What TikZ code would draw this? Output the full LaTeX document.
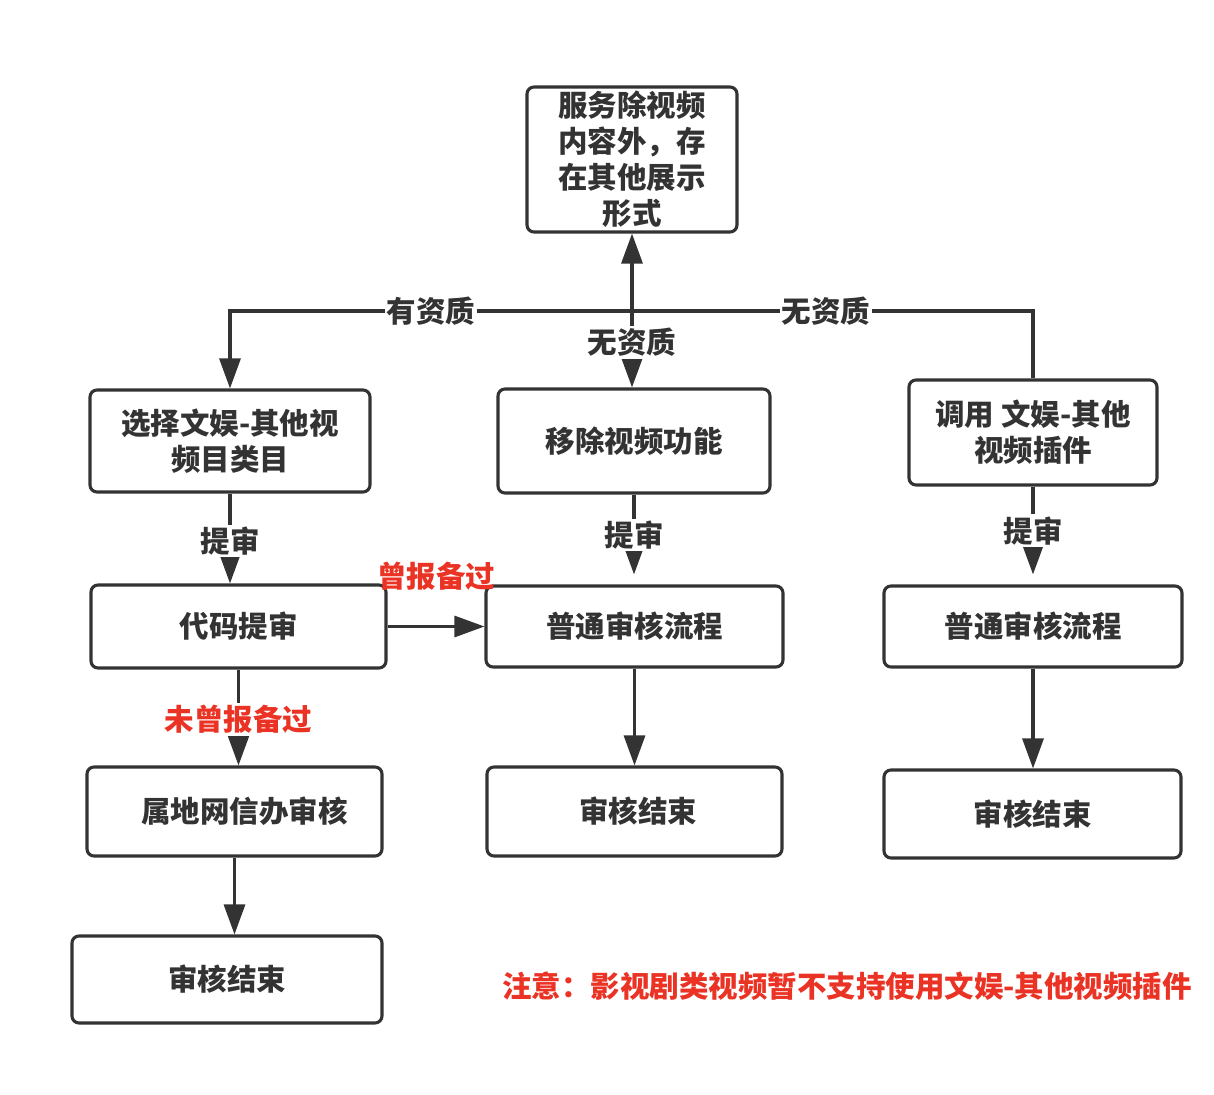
\documentclass[tikz,border=0pt]{standalone}
\usepackage{fontspec}
\newfontfamily\cjk{Noto Sans CJK SC}
\usetikzlibrary{arrows.meta}
\definecolor{ink}{RGB}{51,51,51}
\definecolor{warn}{RGB}{234,51,36}
\tikzset{
  box/.style={draw=ink, line width=3.1pt, rounded corners=7pt, align=center,
    text=ink, font=\cjk\bfseries\fontsize{29.5}{36}\selectfont, inner sep=0pt},
  arr/.style={draw=ink, line width=3.1pt, -{Triangle[length=30pt,width=21pt]}},
  plain/.style={draw=ink, line width=3.1pt},
  lbl/.style={fill=white, text=ink, inner sep=2pt, font=\cjk\bfseries\fontsize{29.5}{34}\selectfont},
  redlbl/.style={text=warn, inner sep=2pt, font=\cjk\bfseries\fontsize{29.5}{34}\selectfont},
}
\begin{document}
\begin{tikzpicture}[x=1pt,y=-1pt]
\useasboundingbox (0,0) rectangle (1214,1094);
% boxes
\node[box, minimum width=210pt, minimum height=145pt] (top) at (632,159.5) {服务除视频\\内容外，存\\在其他展示\\形式};
\node[box, minimum width=280pt, minimum height=102pt] (sel) at (230,441) {选择文娱-其他视\\频目类目};
\node[box, minimum width=295pt, minimum height=83pt] (code) at (238.5,626.5) {代码提审};
\node[box, minimum width=295pt, minimum height=89pt] (local) at (234.5,811.5) {\hspace*{20pt}属地网信办审核};
\node[box, minimum width=310pt, minimum height=87pt] (endL) at (227,979.5) {审核结束};
\node[box, minimum width=272pt, minimum height=104pt] (remove) at (634,441) {移除视频功能};
\node[box, minimum width=297pt, minimum height=81pt] (normM) at (634.5,626.5) {普通审核流程};
\node[box, minimum width=295pt, minimum height=89pt] (endM) at (634.5,811.5) {\hspace*{7pt}审核结束};
\node[box, minimum width=248pt, minimum height=105pt] (call) at (1033,432.5) {调用 文娱-其他\\视频插件};
\node[box, minimum width=298pt, minimum height=81pt] (normR) at (1033,626.5) {普通审核流程};
\node[box, minimum width=297pt, minimum height=88pt] (endR) at (1032.5,814) {审核结束};
% junction
\coordinate (J) at (632,311);
\draw[arr] (J) -- (top.south);
\draw[arr] (J) -- node[lbl, pos=0.41] {无资质} (J |- remove.north);
\draw[arr] (J) -| node[lbl, pos=0.25] {有资质} (sel.north);
\draw[plain] (J) -| node[lbl, pos=0.242] {无资质} (call.north);
% left column
\draw[arr] (sel.south) -- node[lbl, pos=0.53] {提审} (sel.south |- code.north);
\draw[arr] (code.east) -- node[redlbl, yshift=50pt] {曾报备过} (normM.west);
\draw[arr] (code.south) -- node[lbl, text=warn, pos=0.52] {未曾报备过} (code.south |- local.north);
\draw[arr] (local.south) -- (local.south |- endL.north);
% middle column
\draw[arr, shorten >=10pt] (remove.south) -- node[lbl, pos=0.45] {提审} (remove.south |- normM.north);
\draw[arr] (normM.south) -- (normM.south |- endM.north);
% right column
\draw[arr, shorten >=10pt] (call.south) -- node[lbl, pos=0.45] {提审} (call.south |- normR.north);
\draw[arr] (normR.south) -- (normR.south |- endR.north);
% note
\node[redlbl] (note) at (847,986) {注意：影视剧类视频暂不支持使用文娱-其他视频插件};
\end{tikzpicture}
\end{document}
